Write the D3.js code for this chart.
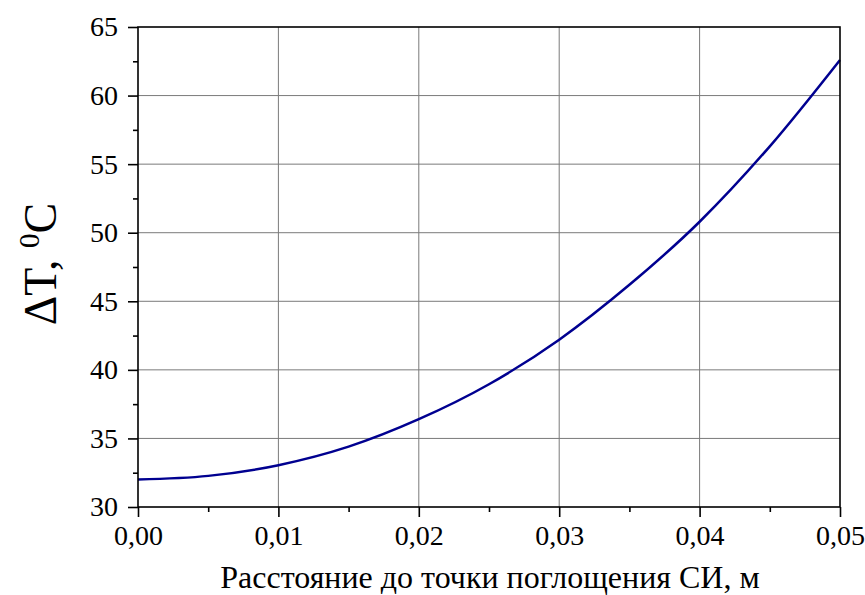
<!DOCTYPE html>
<html><head><meta charset="utf-8">
<script src="https://cdn.jsdelivr.net/npm/d3@7"></script>
<style>body{margin:0;background:#fff}svg{display:block}text{font-family:"Liberation Serif","Times New Roman",serif;fill:#000}</style>
</head><body>
<script>
const xValues = [0, 0.005, 0.01, 0.015, 0.02, 0.025, 0.03, 0.035, 0.04, 0.045, 0.05];
const dTValues = [32.0, 32.27, 33.05, 34.4, 36.4, 38.95, 42.2, 46.2, 50.8, 56.3, 62.6];
const xTicks = [0, 0.01, 0.02, 0.03, 0.04, 0.05];
const yTicks = [30, 35, 40, 45, 50, 55, 60, 65];
const xTitle = "Расстояние до точки поглощения СИ, м";

const W = 865, H = 595;
const m = {l: 138, r: 25, t: 27, b: 88};
const FONT = '"Liberation Serif","Times New Roman",serif';
const svg = d3.select("body").append("svg").attr("width", W).attr("height", H);
const x = d3.scaleLinear().domain([0, 0.05]).range([m.l, W - m.r]);
const y = d3.scaleLinear().domain([30, 65]).range([H - m.b, m.t]);

// grid
svg.append("g").selectAll("line").data(xTicks.slice(1, -1)).join("line")
  .attr("x1", d => x(d)).attr("x2", d => x(d)).attr("y1", y(30)).attr("y2", y(65))
  .attr("stroke", "#7a7a7a").attr("stroke-width", 1);
svg.append("g").selectAll("line").data(yTicks.slice(1, -1)).join("line")
  .attr("y1", d => y(d)).attr("y2", d => y(d)).attr("x1", x(0)).attr("x2", x(0.05))
  .attr("stroke", "#7a7a7a").attr("stroke-width", 1);

// curve
const line = d3.line().x((d, i) => x(xValues[i])).y(d => y(d)).curve(d3.curveMonotoneX);
svg.append("path").datum(dTValues).attr("d", line)
  .attr("fill", "none").attr("stroke", "#000090").attr("stroke-width", 2.5);

// frame
svg.append("rect").attr("x", x(0)).attr("y", y(65)).attr("width", x(0.05) - x(0)).attr("height", y(30) - y(65))
  .attr("fill", "none").attr("stroke", "#000").attr("stroke-width", 1.6);

// axes
const xMinor = d3.range(0.005, 0.05, 0.01);
const yMinor = d3.range(32.5, 65, 5);
svg.append("g").attr("class", "xmaj").attr("transform", `translate(0,${y(30)})`)
  .call(d3.axisBottom(x).tickValues(xTicks).tickSize(10).tickPadding(8).tickFormat(d => d3.format(".2f")(d).replace(".", ",")));
svg.append("g").attr("class", "ymaj").attr("transform", `translate(${x(0)},0)`)
  .call(d3.axisLeft(y).tickValues(yTicks).tickSize(10).tickPadding(10));
svg.append("g").attr("transform", `translate(0,${y(30)})`)
  .call(d3.axisBottom(x).tickValues(xMinor).tickSize(5).tickFormat(""));
svg.append("g").attr("transform", `translate(${x(0)},0)`)
  .call(d3.axisLeft(y).tickValues(yMinor).tickSize(5).tickFormat(""));
svg.selectAll(".domain").remove();
svg.selectAll(".tick line").attr("stroke", "#000").attr("stroke-width", 1.6);
svg.selectAll(".xmaj .tick text, .ymaj .tick text").attr("fill", "#000")
  .style("font-family", FONT).style("font-size", "28px");

// titles
svg.append("text").attr("x", 490).attr("y", 588).attr("text-anchor", "middle")
  .attr("font-family", FONT).attr("font-size", 32).text(xTitle);
const yt = svg.append("text").attr("transform", "translate(56,264) rotate(-90)").attr("text-anchor", "middle")
  .attr("font-family", FONT).attr("font-size", 46);
yt.append("tspan").text("ΔT, ");
yt.append("tspan").text("0").attr("font-size", 29).attr("dy", -17);
yt.append("tspan").text("C").attr("dy", 17);
</script>
</body></html>
